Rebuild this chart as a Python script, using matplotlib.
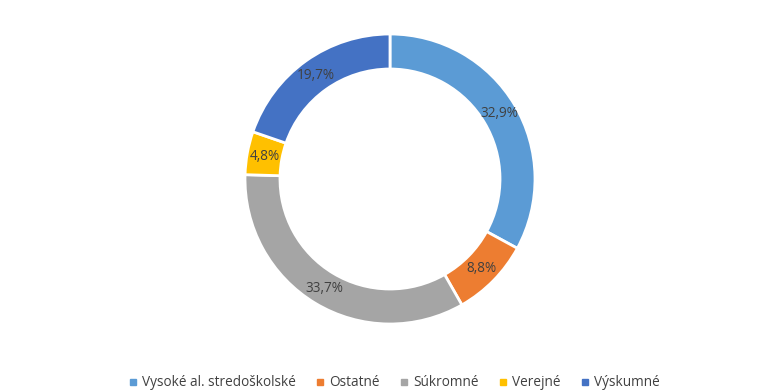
import matplotlib
matplotlib.use("Agg")
import matplotlib.pyplot as plt
from matplotlib.lines import Line2D

categories = ["Vysoké al. stredoškolské", "Ostatné", "Súkromné", "Verejné", "Výskumné"]
shares = [32.9, 8.8, 33.7, 4.8, 19.7]
labels = ["32,9%", "8,8%", "33,7%", "4,8%", "19,7%"]
colors = ["#5B9BD5", "#ED7D31", "#A5A5A5", "#FFC000", "#4472C4"]

plt.rcParams["font.family"] = ["Open Sans", "DejaVu Sans"]

fig = plt.figure(figsize=(7.78, 3.91), dpi=100)
ax = fig.add_axes([0, 0, 1, 1])

outer = 145
width = 35
wedges, texts = ax.pie(shares, colors=colors, startangle=90, counterclock=False,
                       center=(390, 212), radius=outer, frame=True,
                       labels=labels, labeldistance=(outer - width / 2) / outer,
                       wedgeprops=dict(width=width, edgecolor="white", linewidth=2),
                       textprops=dict(color="#404040", fontsize=9.8, ha="center", va="center"))
ax.set_xlim(0, 778)
ax.set_ylim(0, 391)
ax.set_aspect("equal")
ax.axis("off")

handles = [Line2D([], [], marker="s", linestyle="", markersize=5,
                  markerfacecolor=c, markeredgecolor=c) for c in colors]
fig.legend(handles, categories, loc="lower center", bbox_to_anchor=(0.506, -0.03),
           ncol=5, frameon=False, fontsize=9.8, labelcolor="#404040",
           handletextpad=0.25, columnspacing=1.4, handlelength=0.8)

fig.savefig("out.png", dpi=100)
